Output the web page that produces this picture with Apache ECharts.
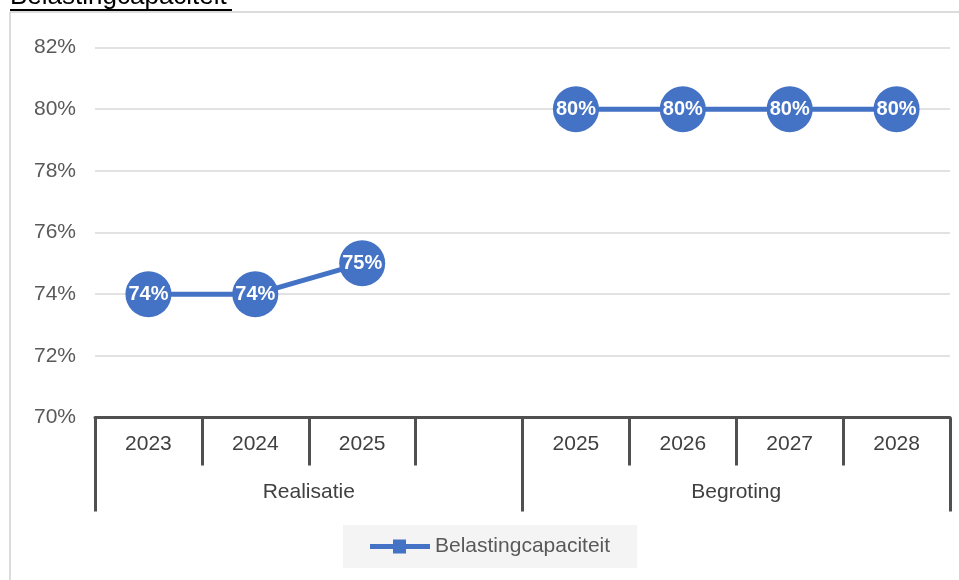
<!DOCTYPE html>
<html>
<head>
<meta charset="utf-8">
<script src="https://cdn.jsdelivr.net/npm/echarts@6/dist/echarts.min.js"></script>
<style>html,body{margin:0;padding:0;background:#fff;}#c{width:959px;height:580px;}</style>
</head>
<body>
<div id="c"></div>
<script>
var title = 'Belastingcapaciteit';
var seriesName = 'Belastingcapaciteit';
var years = ['2023', '2024', '2025', '', '2025', '2026', '2027', '2028'];
var groups = ['Realisatie', 'Begroting'];
var values = [74, 74, 75, null, 80, 80, 80, 80];
var yMin = 70, yMax = 82, yStep = 2;

var font = 'Liberation Sans, Arial, sans-serif';
var chart = echarts.init(document.getElementById('c'), null, {renderer: 'canvas'});
chart.setOption({
  animation: false,
  backgroundColor: '#fff',
  graphic: [
    {type: 'line', shape: {x1: 10, y1: 12, x2: 959, y2: 12}, style: {stroke: '#d0d0d0', lineWidth: 1.5}},
    {type: 'line', shape: {x1: 10, y1: 12, x2: 10, y2: 580}, style: {stroke: '#d0d0d0', lineWidth: 1.5}},
    {type: 'text', left: 10, top: -16, style: {text: title, fill: '#000', font: '26px ' + font}},
    {type: 'line', shape: {x1: 10, y1: 10, x2: 232, y2: 10}, style: {stroke: '#000', lineWidth: 2}}
  ],
  grid: {left: 95, right: 9, top: 47.5, bottom: 162.5, containLabel: false},
  legend: {
    data: [{name: seriesName, icon: 'path://M0,4.5H23V0H36V4.5H60V9.5H36V14H23V9.5H0Z'}],
    left: 343, top: 525,
    itemWidth: 60, itemHeight: 14,
    padding: [11, 27, 11, 27],
    backgroundColor: '#f4f4f4',
    textStyle: {color: '#595959', fontSize: 21, fontFamily: font}
  },
  xAxis: [
    {
      type: 'category', data: years, position: 'bottom', boundaryGap: true,
      axisLine: {show: true, lineStyle: {color: '#505050', width: 3}},
      axisTick: {show: true, interval: 0, length: 48, lineStyle: {color: '#505050', width: 3}},
      axisLabel: {interval: 0, margin: 16, color: '#404040', fontSize: 21, fontFamily: font},
      splitLine: {show: false}
    },
    {
      type: 'category', data: groups, position: 'bottom', boundaryGap: true, offset: 0,
      axisLine: {show: false},
      axisTick: {show: true, interval: 0, length: 94, lineStyle: {color: '#505050', width: 3}},
      axisLabel: {interval: 0, margin: 64, color: '#404040', fontSize: 21, fontFamily: font},
      splitLine: {show: false}
    }
  ],
  yAxis: {
    type: 'value', min: yMin, max: yMax, interval: yStep,
    axisLine: {show: false}, axisTick: {show: false},
    axisLabel: {formatter: '{value}%', color: '#595959', fontSize: 21, fontFamily: font, margin: 19},
    splitLine: {show: true, lineStyle: {color: '#d9d9d9', width: 1.5}}
  },
  series: [{
    name: seriesName, type: 'line', xAxisIndex: 0, data: values,
    connectNulls: false,
    symbol: 'circle', symbolSize: 46,
    lineStyle: {color: '#4472C4', width: 5},
    itemStyle: {color: '#4472C4'},
    label: {
      show: true, position: 'inside', color: '#fff', fontWeight: 'bold',
      fontSize: 20, fontFamily: font, formatter: function (p) { return p.value + '%'; }
    }
  }]
});
</script>
</body>
</html>
